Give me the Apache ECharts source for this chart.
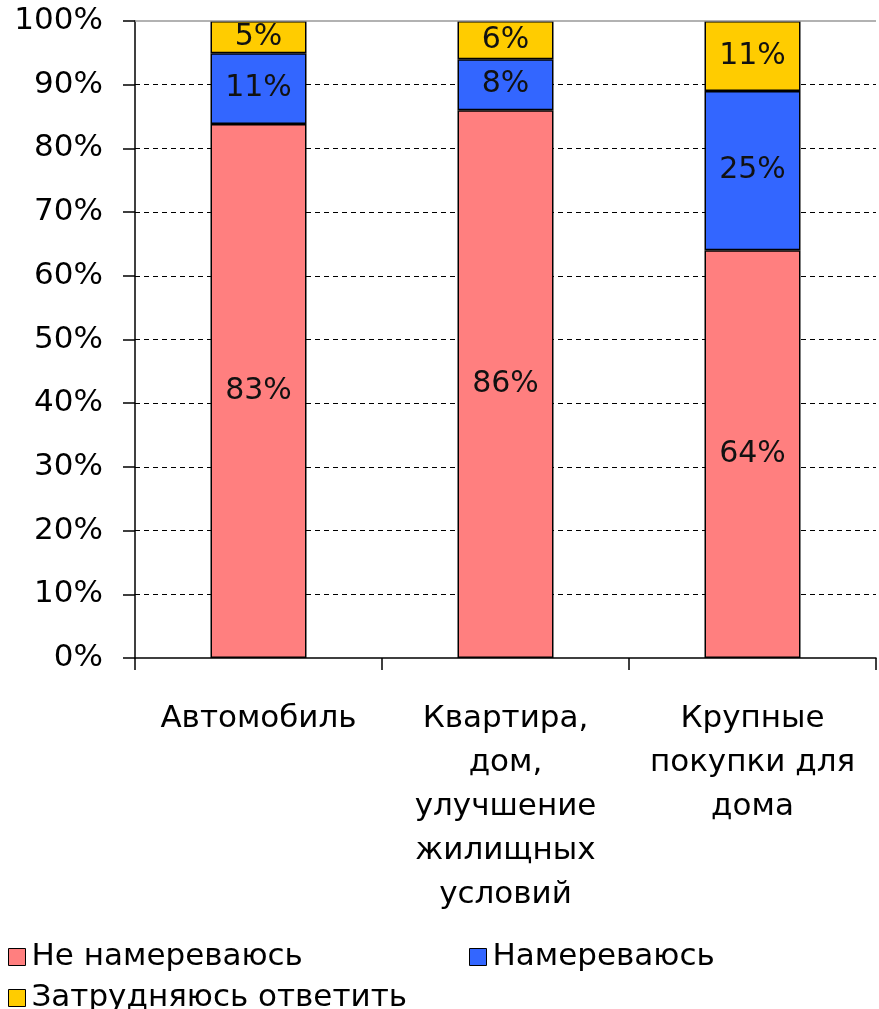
<!DOCTYPE html>
<html>
<head>
<meta charset="utf-8">
<script src="https://cdn.jsdelivr.net/npm/echarts@6/dist/echarts.min.js"></script>
<style>
html, body { margin: 0; padding: 0; background: #fff; }
#chart { width: 879px; height: 1009px; }
</style>
</head>
<body>
<div id="chart"></div>
<script>
// категории и значения (в процентах, как подписано на столбцах)
var categories = ['Автомобиль', 'Квартира,\nдом,\nулучшение\nжилищных\nусловий', 'Крупные\nпокупки для\nдома'];
var seriesNames = ['Не намереваюсь', 'Намереваюсь', 'Затрудняюсь ответить'];
var notIntend = [83, 86, 64];
var intend = [11, 8, 25];
var hardToSay = [5, 6, 11];
var yTicks = [0, 10, 20, 30, 40, 50, 60, 70, 80, 90, 100];
var colors = ['#FF7F7F', '#3366FF', '#FFCC00'];

var raw = [notIntend, intend, hardToSay];
// 100% stacked: each column normalised to its total
var totals = categories.map(function (c, i) {
  return notIntend[i] + intend[i] + hardToSay[i];
});

var font = '"DejaVu Sans", "Liberation Sans", Arial, sans-serif';

var series = raw.map(function (vals, s) {
  return {
    name: seriesNames[s],
    type: 'bar',
    stack: 'all',
    barWidth: 96,
    data: vals.map(function (v, i) {
      return { value: v / totals[i] * 100, raw: v };
    }),
    itemStyle: { color: colors[s], borderColor: '#000', borderWidth: 1.5 },
    label: {
      show: true,
      position: 'inside',
      fontFamily: font,
      fontSize: 30,
      color: '#111',
      formatter: function (p) { return p.data.raw + '%'; }
    },
    markLine: s === 0 ? {
      silent: true,
      symbol: 'none',
      label: { show: false },
      lineStyle: { color: '#999', type: 'solid', width: 1.5 },
      data: [{ yAxis: 100 }]
    } : undefined
  };
});

var splitColors = yTicks.map(function (t) { return (t === 0 || t === 100) ? 'transparent' : '#000'; });

function legendAt(name, left, top) {
  return {
    data: [name],
    left: left,
    top: top,
    itemWidth: 17,
    itemHeight: 17,
    itemGap: 6,
    icon: 'rect',
    itemStyle: { borderColor: '#000', borderWidth: 1 },
    textStyle: { fontFamily: font, fontSize: 31, lineHeight: 36, color: '#000', padding: [0, 0, 0, 1] },
    selectedMode: false
  };
}

var chartDom = document.getElementById('chart');
var myChart = echarts.init(chartDom);
var option = {
  animation: false,
  backgroundColor: '#fff',
  legend: [
    legendAt(seriesNames[0], 3, 934),
    legendAt(seriesNames[1], 464, 934),
    legendAt(seriesNames[2], 3, 975)
  ],
  grid: { left: 135, right: 3, top: 21, bottom: 351, containLabel: false },
  xAxis: {
    type: 'category',
    data: categories,
    axisLine: { lineStyle: { color: '#000', width: 1.5 } },
    axisTick: { show: true, length: 12, lineStyle: { color: '#000', width: 1.5 } },
    axisLabel: {
      fontFamily: font,
      fontSize: 31,
      color: '#000',
      lineHeight: 44,
      margin: 39,
      interval: 0
    }
  },
  yAxis: {
    type: 'value',
    min: 0,
    max: 100,
    interval: 10,
    axisLine: { show: true, lineStyle: { color: '#000', width: 1.5 } },
    axisTick: { show: true, length: 12, lineStyle: { color: '#000', width: 1.5 } },
    axisLabel: {
      fontFamily: font,
      fontSize: 31,
      color: '#000',
      margin: 32,
      formatter: '{value}%'
    },
    splitLine: { show: true, lineStyle: { color: splitColors, type: [5, 4], width: 1.2 } }
  },
  series: series
};

option && myChart.setOption(option);
window.addEventListener('resize', function () { myChart.resize(); });
</script>
</body>
</html>
